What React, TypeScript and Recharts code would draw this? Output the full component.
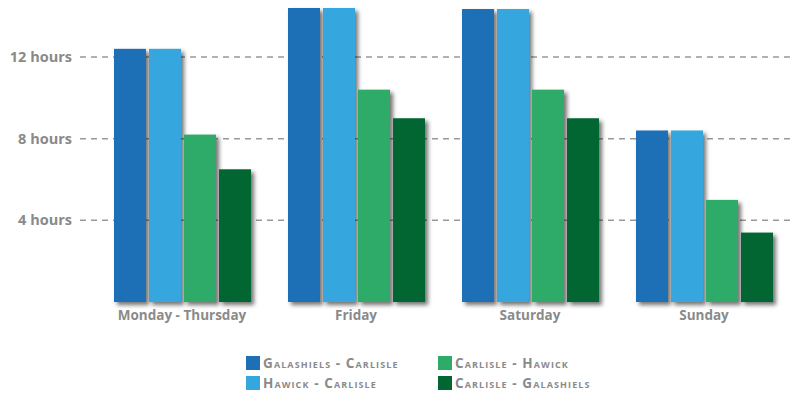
import React from 'react';
import { BarChart, Bar, XAxis, YAxis, CartesianGrid, Legend } from 'recharts';

const categories = ['Monday - Thursday', 'Friday', 'Saturday', 'Sunday'];
const galashielsCarlisle = [12.4, 14.4, 14.35, 8.4];
const hawickCarlisle = [12.4, 14.4, 14.35, 8.4];
const carlisleHawick = [8.2, 10.4, 10.4, 5.0];
const carlisleGalashiels = [6.5, 9.0, 9.0, 3.4];
const yTicks = [4, 8, 12];

const seriesNames = ['Galashiels - Carlisle', 'Hawick - Carlisle', 'Carlisle - Hawick', 'Carlisle - Galashiels'];
const seriesKeys = ['gc', 'hc', 'ch', 'cg'];
const seriesColors = ['#1d6fb6', '#35a7de', '#2eab69', '#016632'];
const seriesValues = [galashielsCarlisle, hawickCarlisle, carlisleHawick, carlisleGalashiels];

const data = categories.map((c, i) => {
  const row: any = { name: c };
  seriesKeys.forEach((k, s) => {
    row[k] = seriesValues[s][i];
  });
  return row;
});

const FONT = '"Open Sans", Lato, sans-serif';
const GRAY = '#8a8a8a';

const ShadowBar = (props: any) => {
  const { x, y, width, height, fill } = props;
  if (height == null || height <= 0) return null;
  return (
    <rect
      x={x}
      y={y}
      width={width}
      height={height}
      fill={fill}
      style={{ filter: 'drop-shadow(3px 3px 2px rgba(0,0,0,0.55))' }}
    />
  );
};

const LegendContent = () => {
  const cols = [246, 438];
  const rows = [4, 24];
  return (
    <div style={{ position: 'relative', width: 793, height: 42 }}>
      {seriesNames.map((n, i) => {
        const col = Math.floor(i / 2);
        const row = i % 2;
        return (
          <div
            key={n}
            style={{
              position: 'absolute',
              left: cols[col],
              top: rows[row],
              height: 14,
              display: 'flex',
              alignItems: 'center',
              whiteSpace: 'nowrap',
            }}
          >
            <span style={{ display: 'inline-block', width: 14, height: 14, background: seriesColors[i], marginRight: 3 }} />
            <span
              style={{
                fontFamily: FONT,
                fontWeight: 700,
                fontSize: 13.5,
                fontVariant: 'small-caps',
                letterSpacing: 1.1,
                color: GRAY,
                lineHeight: '14px',
              }}
            >
              {n}
            </span>
          </div>
        );
      })}
    </div>
  );
};

export default function App() {
  return (
    <div style={{ position: 'absolute', left: 0, top: 0, width: 793, height: 396, background: '#fff' }}>
      <BarChart
        width={793}
        height={396}
        data={data}
        margin={{ top: 8, right: 2, left: 0, bottom: 2 }}
        barSize={32}
        barGap={3}
      >
        <CartesianGrid
          vertical={false}
          horizontalValues={yTicks}
          stroke="#999"
          strokeWidth={1.5}
          strokeDasharray="6 5"
        />
        <XAxis
          dataKey="name"
          axisLine={false}
          tickLine={false}
          height={50}
          padding={{ left: 15, right: 0 }}
          tick={{ fill: GRAY, fontFamily: FONT, fontWeight: 700, fontSize: 13.5 }}
          interval={0}
        />
        <YAxis
          width={80}
          domain={[0, 14.4]}
          ticks={yTicks}
          axisLine={false}
          tickLine={false}
          tickFormatter={(v: number) => `${v} hours`}
          tick={{ fill: GRAY, fontFamily: FONT, fontWeight: 700, fontSize: 14.5 }}
        />
        <Legend verticalAlign="bottom" align="left" content={<LegendContent />} wrapperStyle={{ height: 42 }} />
        {seriesKeys.map((k, i) => (
          <Bar
            key={k}
            dataKey={k}
            name={seriesNames[i]}
            fill={seriesColors[i]}
            shape={<ShadowBar />}
            isAnimationActive={false}
          />
        ))}
      </BarChart>
    </div>
  );
}
